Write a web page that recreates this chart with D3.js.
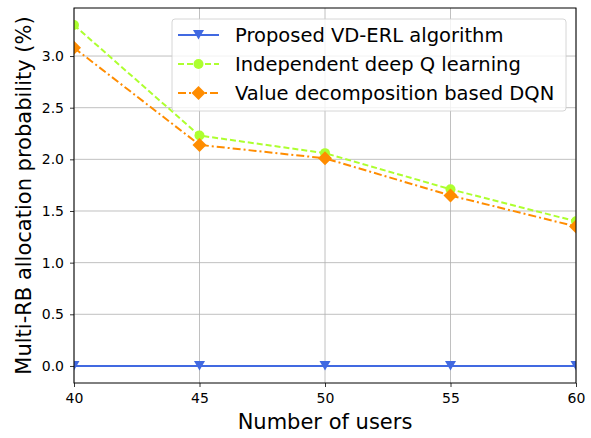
<!DOCTYPE html>
<html><head><meta charset="utf-8">
<script src="https://cdn.jsdelivr.net/npm/d3@7"></script>
<style>body{margin:0;background:#fff}svg{display:block;font-family:"DejaVu Sans",sans-serif}</style>
</head><body>
<script>
const users = [40, 45, 50, 55, 60];
const vdErl = [0, 0, 0, 0, 0];
const idql = [3.30, 2.23, 2.06, 1.71, 1.40];
const vdDqn = [3.08, 2.14, 2.01, 1.65, 1.35];
const seriesNames = ["Proposed VD-ERL algorithm", "Independent deep Q learning", "Value decomposition based DQN"];
const xTicks = [40, 45, 50, 55, 60];
const yTicks = [0, 0.5, 1.0, 1.5, 2.0, 2.5, 3.0];

const W = 591, H = 438;
const m = {l: 74, r: 15, t: 8, b: 55};
const svg = d3.select("body").append("svg").attr("width", W).attr("height", H);
const x = d3.scaleLinear().domain([40, 60]).range([m.l, W - m.r]);
const y = d3.scaleLinear().domain([-0.165, 3.465]).range([H - m.b, m.t]);

// grid
const g = svg.append("g");
g.selectAll(".vg").data(xTicks).enter().append("line")
  .attr("x1", d => x(d)).attr("x2", d => x(d)).attr("y1", m.t).attr("y2", H - m.b)
  .attr("stroke", "#b0b0b0").attr("stroke-width", 0.8);
g.selectAll(".hg").data(yTicks).enter().append("line")
  .attr("x1", m.l).attr("x2", W - m.r).attr("y1", d => y(d)).attr("y2", d => y(d))
  .attr("stroke", "#b0b0b0").attr("stroke-width", 0.8);

const series = [
  {name: seriesNames[0], vals: vdErl, color: "#4169E1", dash: null, sym: "tri"},
  {name: seriesNames[1], vals: idql, color: "#ADFF2F", dash: "6,3", sym: "circle"},
  {name: seriesNames[2], vals: vdDqn, color: "#FF8C00", dash: "8,3,2,3", sym: "diamond"}
];
function marker(sel, sym, color) {
  if (sym === "tri") {
    sel.append("path").attr("d", "M-5.5,-5L5.5,-5L0,4.5Z").attr("fill", color);
  } else if (sym === "circle") {
    sel.append("circle").attr("r", 5).attr("fill", color);
  } else {
    sel.append("path").attr("d", "M0,-7L7,0L0,7L-7,0Z").attr("fill", color);
  }
}
const line = d3.line().x((d, i) => x(users[i])).y(d => y(d));
const clip = svg.append("clipPath").attr("id", "c").append("rect")
  .attr("x", m.l).attr("y", m.t).attr("width", W - m.r - m.l).attr("height", H - m.b - m.t);
const pg = svg.append("g").attr("clip-path", "url(#c)");
series.forEach(s => {
  pg.append("path").attr("d", line(s.vals)).attr("fill", "none").attr("stroke", s.color)
    .attr("stroke-width", 2).attr("stroke-dasharray", s.dash);
  s.vals.forEach((v, i) => {
    const mg = pg.append("g").attr("transform", `translate(${x(users[i])},${y(v)})`);
    marker(mg, s.sym, s.color);
  });
});

// axes
const xa = svg.append("g").attr("transform", `translate(0,${H - m.b})`)
  .call(d3.axisBottom(x).tickValues(xTicks).tickFormat(d3.format("d")).tickSize(4).tickPadding(6));
const ya = svg.append("g").attr("transform", `translate(${m.l},0)`)
  .call(d3.axisLeft(y).tickValues(yTicks).tickFormat(d3.format(".1f")).tickSize(4).tickPadding(6));
[xa, ya].forEach(a => {
  a.selectAll("text").attr("font-size", 14).attr("fill", "#000").attr("font-family", "DejaVu Sans");
  a.selectAll("line").attr("stroke", "#000").attr("stroke-width", 0.8);
  a.select(".domain").remove();
});
svg.append("rect").attr("x", m.l).attr("y", m.t).attr("width", W - m.r - m.l).attr("height", H - m.b - m.t)
  .attr("fill", "none").attr("stroke", "#000").attr("stroke-width", 1);

svg.append("text").attr("x", (m.l + W - m.r) / 2).attr("y", 429).attr("text-anchor", "middle")
  .attr("font-size", 21).text("Number of users");
svg.append("text").attr("transform", `translate(31,${(m.t + H - m.b) / 2}) rotate(-90)`)
  .attr("text-anchor", "middle").attr("font-size", 21).text("Multi-RB allocation probability (%)");

// legend
const lg = svg.append("g");
lg.append("rect").attr("x", 172).attr("y", 19).attr("width", 394).attr("height", 92).attr("rx", 3)
  .attr("fill", "#fff").attr("fill-opacity", 0.8).attr("stroke", "#ccc").attr("stroke-width", 0.8);
series.forEach((s, i) => {
  const yy = 35 + i * 29;
  lg.append("line").attr("x1", 178).attr("x2", 219).attr("y1", yy).attr("y2", yy)
    .attr("stroke", s.color).attr("stroke-width", 2).attr("stroke-dasharray", s.dash);
  const mg = lg.append("g").attr("transform", `translate(198.5,${yy})`);
  marker(mg, s.sym, s.color);
  lg.append("text").attr("x", 235).attr("y", yy).attr("dy", "0.35em").attr("font-size", 19.5).text(s.name);
});
</script>
</body></html>
